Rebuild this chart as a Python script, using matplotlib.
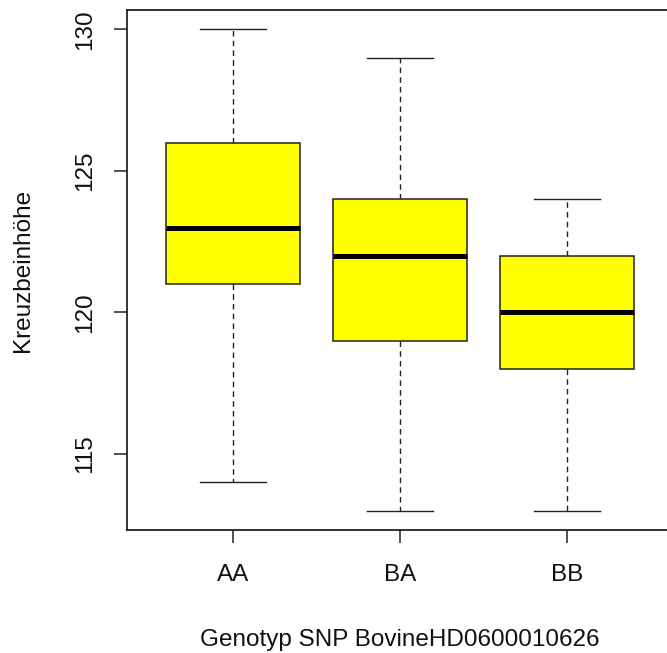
import matplotlib
matplotlib.use("Agg")
import matplotlib.pyplot as plt

# Boxplot-Statistik je Genotyp
genotypes = ["AA", "BA", "BB"]
whisker_low = [114, 113, 113]
q1 = [121, 119, 118]
median = [123, 122, 120]
q3 = [126, 124, 122]
whisker_high = [130, 129, 124]
y_ticks = [115, 120, 125, 130]

plt.rcParams['font.family'] = ['Liberation Sans', 'DejaVu Sans']

W, H = 667, 653
fig = plt.figure(figsize=(W / 100, H / 100), dpi=100)

# Achse in Pixeln: links 127, oben 10, unten 530, rechts ueber den Rand hinaus
x0, x1 = 0.365, 3.635
px_unit = 167
left, top, bottom = 127, 10, 530
right = left + (x1 - x0) * px_unit
ax = fig.add_axes([left / W, (H - bottom) / H, (right - left) / W, (bottom - top) / H])

stats = []
for i, g in enumerate(genotypes):
    stats.append(dict(label=g, whislo=whisker_low[i], q1=q1[i], med=median[i],
                      q3=q3[i], whishi=whisker_high[i], fliers=[]))

ax.bxp(stats, positions=[1, 2, 3], widths=0.8, capwidths=0.4, patch_artist=True,
       showfliers=False,
       boxprops=dict(facecolor="#ffff00", edgecolor="#222222", linewidth=1.1),
       medianprops=dict(color="black", linewidth=3.6, solid_capstyle="butt"),
       whiskerprops=dict(color="#222222", linewidth=1.0, linestyle=(0, (4, 3))),
       capprops=dict(color="#222222", linewidth=1.0))

ax.set_xlim(x0, x1)
ax.set_ylim(112.32, 130.68)
ax.set_yticks(y_ticks)
ax.set_yticklabels([str(t) for t in y_ticks], rotation=90, va="center")
ax.set_xticks([1, 2, 3])
ax.set_xticklabels(genotypes)

fs = 17.5
ax.tick_params(axis="both", length=9.5, width=1.1, color="#222222", labelsize=fs,
               labelcolor="#111111")
ax.tick_params(axis="y", pad=12.5)
ax.tick_params(axis="x", pad=15)

for s in ax.spines.values():
    s.set_linewidth(1.3)
    s.set_color("#222222")

ax.set_xlabel("Genotyp SNP BovineHD0600010626", fontsize=fs, color="#111111", labelpad=31)
ax.set_ylabel("Kreuzbeinhöhe", fontsize=fs, color="#111111", labelpad=29)

fig.savefig("out.png", dpi=100)
